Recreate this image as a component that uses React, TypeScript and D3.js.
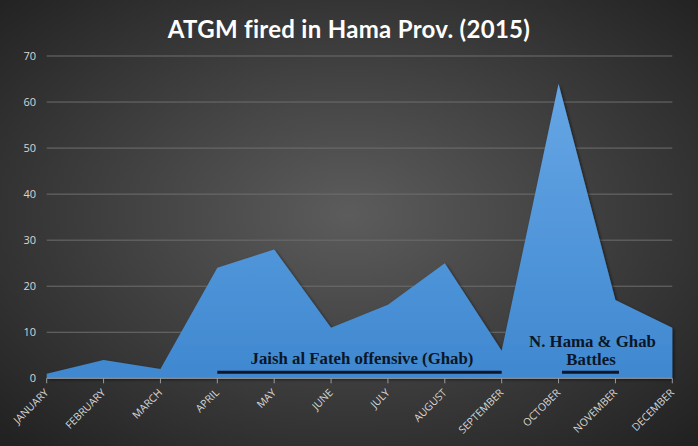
import React from "react";
import * as d3 from "d3";

const months = ["JANUARY","FEBRUARY","MARCH","APRIL","MAY","JUNE","JULY","AUGUST","SEPTEMBER","OCTOBER","NOVEMBER","DECEMBER"];
const values = [1, 4, 2, 24, 28, 11, 16, 25, 6, 64, 17, 11];
const yTicks = [0, 10, 20, 30, 40, 50, 60, 70];
const title = "ATGM fired in Hama Prov. (2015)";
const note1 = "Jaish al Fateh offensive (Ghab)";
const note2a = "N. Hama & Ghab";
const note2b = "Battles";

const W = 698, H = 446;
const left = 46.7, right = 672.3, top = 56, bottom = 378.3;

export default function App() {
  const x = d3.scalePoint<string>().domain(months).range([left, right]);
  const y = d3.scaleLinear().domain([0, 70]).range([bottom, top]);
  const area = d3.area<number>()
    .x((_, i) => x(months[i])!)
    .y0(y(0))
    .y1((d) => y(d));
  const xm = (m: string) => x(m)!;
  return (
    <svg width={W} height={H} style={{ position: "absolute", left: 0, top: 0, display: "block" }}>
      <defs>
        <radialGradient id="bg" cx="50%" cy="48%" r="70%">
          <stop offset="0%" stopColor="#5c5c5c" />
          <stop offset="100%" stopColor="#222222" />
        </radialGradient>
        <linearGradient id="fill" x1="0" y1={y(64)} x2="0" y2={y(0)} gradientUnits="userSpaceOnUse">
          <stop offset="0%" stopColor="#66a6e5" />
          <stop offset="100%" stopColor="#3f88d0" />
        </linearGradient>
        <filter id="sh" x="-5%" y="-5%" width="110%" height="115%">
          <feDropShadow dx="1.5" dy="1.5" stdDeviation="1.5" floodColor="#000" floodOpacity="0.55" />
        </filter>
      </defs>
      <rect width={W} height={H} fill="url(#bg)" />
      <text x={349} y={38} textAnchor="middle" fill="#ffffff" fontFamily="Lato, 'Open Sans', sans-serif" fontWeight="bold" fontSize={24} letterSpacing={0.3}>{title}</text>
      {yTicks.map((t) => (
        <g key={t}>
          {t > 0 && <line x1={left} x2={right} y1={y(t)} y2={y(t)} stroke="#6e6e6e" strokeWidth={1} />}
          <text x={36} y={y(t) + 4} textAnchor="end" fill="#d6d6d6" fontFamily="'Open Sans', sans-serif" fontSize={11}>{t}</text>
        </g>
      ))}
      <path d={area(values)!} fill="url(#fill)" filter="url(#sh)" />
      <line x1={left} x2={right} y1={bottom} y2={bottom} stroke="#9a9a9a" strokeWidth={1} />
      {months.map((m) => (
        <g key={m}>
          <line x1={xm(m)} x2={xm(m)} y1={bottom} y2={bottom + 5} stroke="#9a9a9a" strokeWidth={1} />
          <text
            transform={`translate(${xm(m) + 2.5},${bottom + 15}) rotate(-45)`}
            textAnchor="end"
            fill="#d6d6d6"
            fontFamily="'Open Sans', sans-serif"
            fontSize={10.5}
          >{m}</text>
        </g>
      ))}
      <g fontFamily="'Liberation Serif', 'Times New Roman', serif" fontWeight="bold" fill="#0b1628" fontSize={16.8}>
        <text x={362} y={364} textAnchor="middle">{note1}</text>
        <text x={592.5} y={347} textAnchor="middle">{note2a}</text>
        <text x={591} y={365} textAnchor="middle">{note2b}</text>
      </g>
      <line x1={xm("APRIL")} x2={xm("SEPTEMBER")} y1={372.3} y2={372.3} stroke="#0b1628" strokeWidth={3} />
      <line x1={562} x2={619} y1={372.3} y2={372.3} stroke="#0b1628" strokeWidth={3} />
    </svg>
  );
}
